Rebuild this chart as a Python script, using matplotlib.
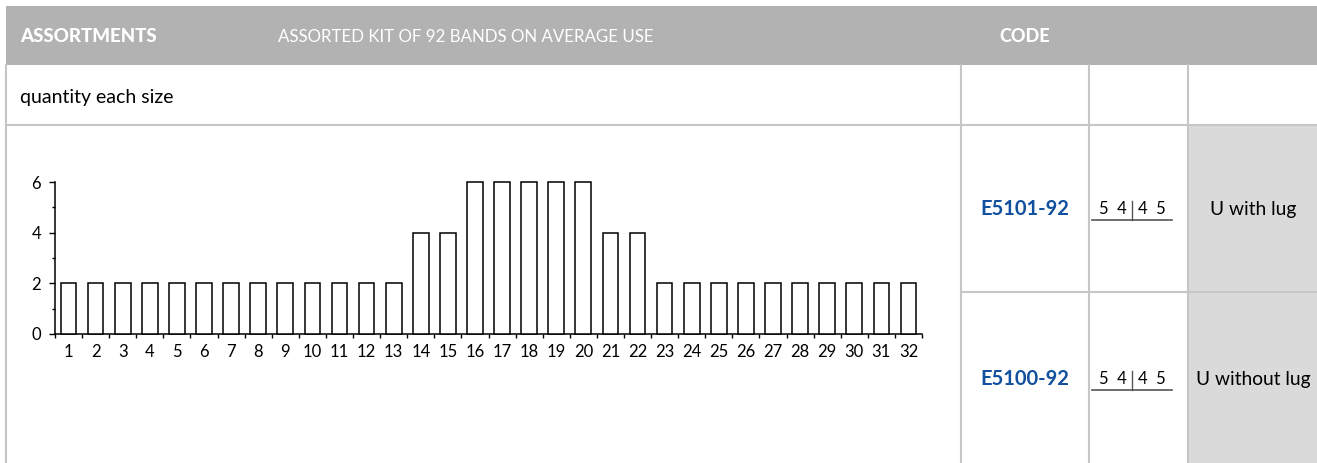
import numpy as np
import matplotlib
matplotlib.use("Agg")
import matplotlib.pyplot as plt
from matplotlib.patches import Rectangle
from matplotlib.lines import Line2D

plt.rcParams['font.family'] = ['Lato', 'DejaVu Sans']

# data
sizes = list(range(1, 33))
quantity = [2, 2, 2, 2, 2, 2, 2, 2, 2, 2, 2, 2, 2,
            4, 4, 6, 6, 6, 6, 6, 4, 4,
            2, 2, 2, 2, 2, 2, 2, 2, 2, 2]
y_ticks = [0, 2, 4, 6]
header_left = "ASSORTMENTS"
header_mid = "ASSORTED KIT OF 92 BANDS ON AVERAGE USE"
header_code = "CODE"
row_label = "quantity each size"
codes = ["E5101-92", "E5100-92"]
formula_left = ["5  4", "5  4"]
formula_right = ["4  5", "4  5"]
types = ["U with lug", "U without lug"]

W, H = 1317, 463
fig = plt.figure(figsize=(W / 100, H / 100), dpi=100)

# table background drawn in pixel coordinates
bg = fig.add_axes([0, 0, 1, 1])
bg.set_xlim(0, W)
bg.set_ylim(H, 0)
bg.axis('off')

grid = '#c6c6c6'
bg.add_patch(Rectangle((6, 6), W - 6, 59, color='#b2b2b2', lw=0))
bg.add_patch(Rectangle((1188, 125), W - 1188, H - 125, color='#dadada', lw=0))
bg.add_line(Line2D([6, 6], [65, H], color=grid, lw=1.5))
bg.add_line(Line2D([6, W], [125, 125], color=grid, lw=1.5))
bg.add_line(Line2D([961, W], [292, 292], color=grid, lw=1.5))
for xv in [961, 1089, 1188]:
    bg.add_line(Line2D([xv, xv], [65, H], color=grid, lw=1.5))

bg.text(20, 37, header_left, color='white', fontsize=13.5, fontweight='black',
        va='center', ha='left')
bg.text(278, 37, header_mid, color='white', fontsize=12.2, va='center', ha='left')
bg.text(1025, 37, header_code, color='white', fontsize=13, fontweight='black',
        va='center', ha='center')
bg.text(20, 98, row_label, color='black', fontsize=14, va='center', ha='left')

row_y = [209, 379]
for i, yc in enumerate(row_y):
    bg.text(1025, yc, codes[i], color='#11509f', fontsize=14.5, fontweight='bold',
            va='center', ha='center')
    bg.text(1127, yc, formula_left[i], color='black', fontsize=12, va='center', ha='right')
    bg.text(1138, yc, formula_right[i], color='black', fontsize=12, va='center', ha='left')
    bg.add_line(Line2D([1092, 1172], [yc + 11, yc + 11], color='#555555', lw=1.2))
    bg.add_line(Line2D([1132, 1132], [yc - 8, yc + 11], color='#555555', lw=1.0))
    bg.text(1253, yc, types[i], color='black', fontsize=13.8, va='center', ha='center')

# bar chart
ax = fig.add_axes([55 / W, (H - 334) / H, (922 - 55) / W, 152 / H])
ax.bar(sizes, quantity, width=0.58, facecolor='white', edgecolor='black', lw=1.1,
       clip_on=False, zorder=3)
ax.set_xlim(0.5, 32.5)
ax.set_ylim(0, 6)
for s in ['top', 'right']:
    ax.spines[s].set_visible(False)
for s in ['left', 'bottom']:
    ax.spines[s].set_linewidth(1.1)
ax.set_yticks(y_ticks)
ax.set_yticks([1, 3, 5], minor=True)
ax.set_xticks(sizes)
ax.set_xticks(np.arange(0.5, 33, 1), minor=True)
ax.tick_params(axis='x', which='major', length=0, pad=7, labelsize=12)
ax.tick_params(axis='x', which='minor', length=3, width=1)
ax.tick_params(axis='y', which='major', length=4, width=1, pad=6, labelsize=12)
ax.tick_params(axis='y', which='minor', length=2, width=1)
ax.patch.set_visible(False)

fig.savefig('out.png', dpi=100)
